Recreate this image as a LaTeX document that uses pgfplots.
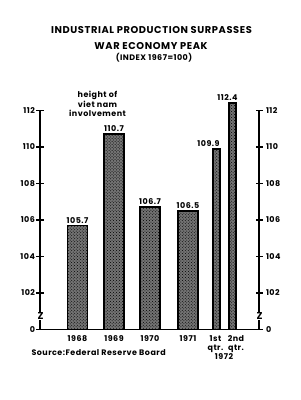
\documentclass[border=0pt]{standalone}
\usepackage{pgfplots}
\pgfplotsset{compat=1.18}
\usepackage{fontspec}
\setmainfont{Poppins}[LetterSpace=6]
\usetikzlibrary{patterns}
\pgfplotsset{myax/.style={
  at={(40bp,70.5bp)}, anchor=south west, scale only axis,
  width=219bp, height=246.375bp,
  xmin=40, xmax=259, ymin=100, ymax=113.5,
  axis line style={draw=none},
  ytick={100,102,104,106,108,110,112},
  yticklabels={0,102,104,106,108,110,112},
  tick align=center, major tick length=7bp,
  ytick style={line width=1.2pt, black},
  ticklabel style={font=\bfseries\fontsize{8}{9}\selectfont},
  /pgf/number format/assume math mode=true,
},
barsty/.style={ybar, line width=1.7pt, draw=black, preaction={fill=black!55}, pattern=crosshatch dots, pattern color=black}}
\begin{document}
\begin{tikzpicture}[x=1bp,y=1bp]
\path (0,0) rectangle (301,400);
\node[font=\bfseries\fontsize{9.9}{12}\selectfont, anchor=base] at (151.5,367) {INDUSTRIAL PRODUCTION SURPASSES};
\node[font=\bfseries\fontsize{9.9}{12}\selectfont, anchor=base] at (151,351) {WAR ECONOMY PEAK};
\node[font=\bfseries\fontsize{8}{9}\selectfont, anchor=base] at (154,340) {(INDEX 1967=100)};
\node[font=\bfseries\fontsize{8}{9}\selectfont, anchor=base] at (97.5,303) {height of};
\node[font=\bfseries\fontsize{8}{9}\selectfont, anchor=base] at (97.5,293) {viet nam};
\node[font=\bfseries\fontsize{8}{9}\selectfont, anchor=base] at (97.5,284) {involvement};
\node[font=\bfseries\fontsize{8}{9}\selectfont, anchor=base] at (224,41) {1972};
\node[font=\bfseries\fontsize{8}{9}\selectfont, anchor=base west] at (28,45) {Source:Federal Reserve Board};

\begin{axis}[myax,
  ytick pos=left,
  yticklabel style={xshift=2bp},
  xtick={77.5,114,150,188,215.5,236},
  xticklabels={1968,1969,1970,1971,{1st\\qtr.},{2nd\\qtr.}},
  xtick style={draw=none}, xtick pos=bottom,
  xticklabel style={align=center, text depth=0pt, yshift=1bp},
  nodes near coords, point meta=explicit symbolic,
  every node near coord/.append style={font=\bfseries\fontsize{8}{8}\selectfont, anchor=south, inner sep=1.5pt},
]
\addplot[barsty, bar width=20]
  coordinates {(77.5,105.7) [105.7] (114,110.7) [110.7] (150,106.7) [106.7] (188,106.5) [106.5]};
\addplot[barsty, bar width=7, every node near coord/.append style={xshift=-8bp}]
  coordinates {(216.5,109.9) [109.9]};
\addplot[barsty, bar width=7, every node near coord/.append style={xshift=-5bp}]
  coordinates {(232.5,112.4) [112.4]};
\end{axis}

\begin{axis}[myax,
  ytick pos=right, yticklabel pos=right,
  xtick=\empty,
]
\end{axis}

\draw[line width=1.3pt] (40,70.5) -- (40,289.5);
\draw[line width=1.3pt] (259,70.5) -- (259,289.5);
\draw[line width=1.3pt] (37,70.5) -- (263,70.5);
\node[fill=white, inner sep=0.4pt, font=\bfseries\fontsize{10}{10}\selectfont] at (40.5,84) {Z};
\node[fill=white, inner sep=0.4pt, font=\bfseries\fontsize{10}{10}\selectfont] at (259.5,84) {Z};
\end{tikzpicture}
\end{document}
